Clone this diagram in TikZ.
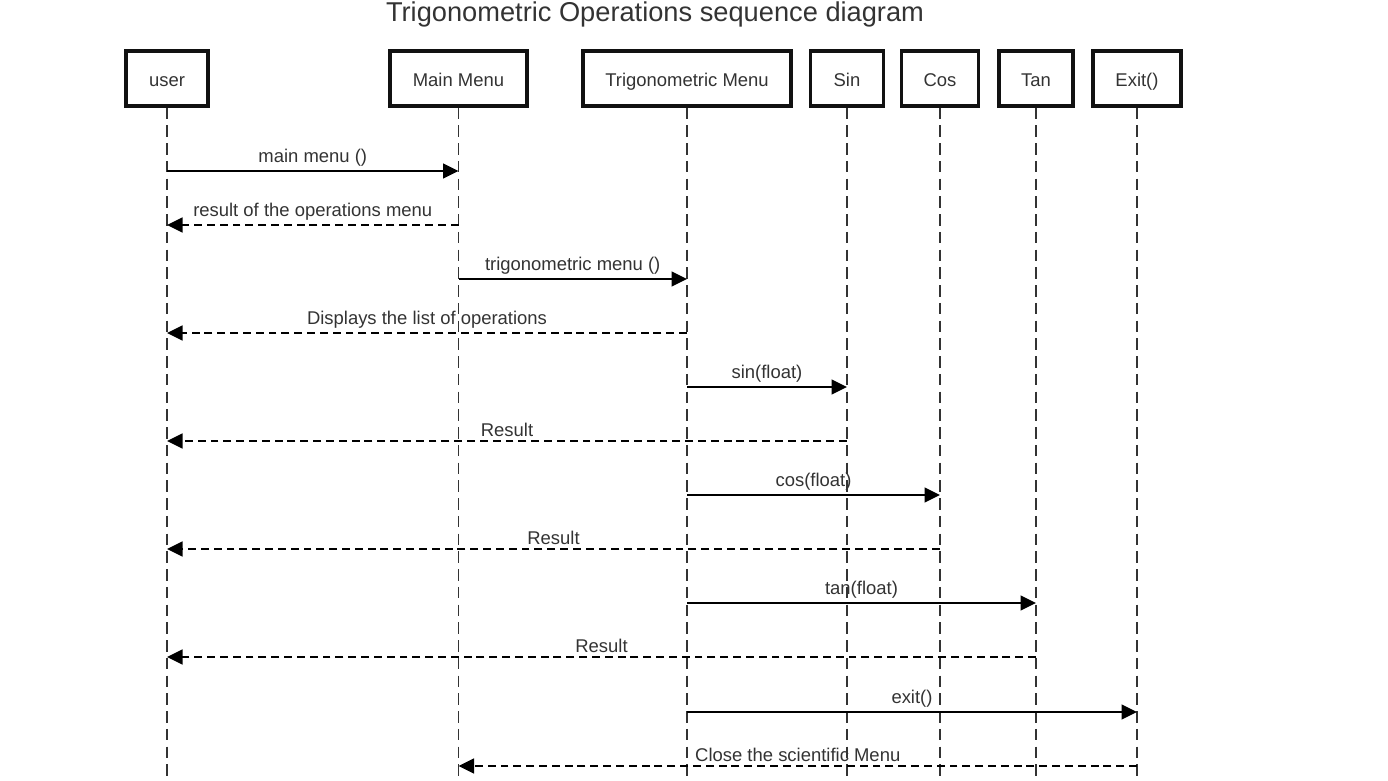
\documentclass[tikz,border=0pt]{standalone}
\usepackage{fontspec}
\setmainfont{Liberation Sans}
\usepackage{tikz}
\usetikzlibrary{
  positioning,
  arrows.meta,
  calc
}
\usepackage{xcolor}
\definecolor{ink}{HTML}{333333}
\definecolor{frame}{HTML}{111111}

\begin{document}
\begin{tikzpicture}[
  actor/.style={draw=frame, line width=1.9pt, minimum height=1.1cm, font=\fontsize{10.5}{12}\selectfont,
                text=ink, inner sep=0pt, text height=2ex, text depth=0.3ex},
  life/.style={draw=ink, line width=1.1pt, dash pattern=on 6.5pt off 3.6pt},
  msg/.style={-{Triangle[length=3.1mm, width=3mm]}, draw=black, line width=0.9pt},
  reply/.style={msg, dash pattern=on 4.5pt off 2.8pt},
  lbl/.style={above=0pt, font=\fontsize{10.5}{12}\selectfont, text=ink, inner sep=2pt}
]
  \useasboundingbox (0,0) rectangle (27.76,-15.62);

  % title at the top edge
  \node[anchor=base, font=\fontsize{15.5}{18}\selectfont, text=ink] (title) at (13.1,-0.44)
    {Trigonometric Operations sequence diagram};

  % lifeline heads
  \node[actor, minimum width=1.64cm] (user) at (3.34,-1.57) {user};
  \node[actor, minimum width=2.74cm] (main) at (9.17,-1.57) {Main Menu};
  \node[actor, minimum width=4.16cm] (trig) at (13.74,-1.57) {Trigonometric Menu};
  \node[actor, minimum width=1.46cm] (sin) at (16.94,-1.57) {Sin};
  \node[actor, minimum width=1.54cm] (cos) at (18.8,-1.57) {Cos};
  \node[actor, minimum width=1.48cm] (tan) at (20.72,-1.57) {Tan};
  \node[actor, minimum width=1.76cm] (exit) at (22.74,-1.57) {Exit()};

  % lifelines
  \coordinate (bottom) at (0,-15.62);
  \draw[life] (user) -- (user |- bottom);
  \draw[life] (main) -- (main |- bottom);
  \draw[life] (trig) -- (trig |- bottom);
  \draw[life] (sin) -- (sin |- bottom);
  \draw[life] (cos) -- (cos |- bottom);
  \draw[life] (tan) -- (tan |- bottom);
  \draw[life] (exit) -- (exit |- bottom);

  % messages
  \draw[msg] (user |- 0,-3.42) -- node[lbl] {main menu ()} (main |- 0,-3.42);
  \draw[reply] (main |- 0,-4.5) -- node[lbl] {result of the operations menu} (user |- 0,-4.5);
  \draw[msg] (main |- 0,-5.58) -- node[lbl] {trigonometric menu ()} (trig |- 0,-5.58);
  \draw[reply] (trig |- 0,-6.66) -- node[lbl] {Displays the list of operations} (user |- 0,-6.66);
  \draw[msg] (trig |- 0,-7.74) -- node[lbl] {sin(float)} (sin |- 0,-7.74);
  \draw[reply] (sin |- 0,-8.82) -- node[lbl] {Result} (user |- 0,-8.82);
  \draw[msg] (trig |- 0,-9.9) -- node[lbl] {cos(float)} (cos |- 0,-9.9);
  \draw[reply] (cos |- 0,-10.98) -- node[lbl] {Result} (user |- 0,-10.98);
  \draw[msg] (trig |- 0,-12.06) -- node[lbl] {tan(float)} (tan |- 0,-12.06);
  \draw[reply] (tan |- 0,-13.14) -- node[lbl] {Result} (user |- 0,-13.14);
  \draw[msg] (trig |- 0,-14.24) -- node[lbl] {exit()} (exit |- 0,-14.24);
  \draw[reply] (exit |- 0,-15.32) -- node[lbl] {Close the scientific Menu} (main |- 0,-15.32);
\end{tikzpicture}
\end{document}
